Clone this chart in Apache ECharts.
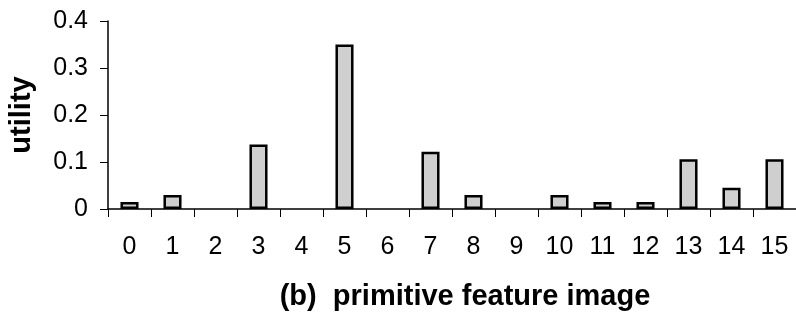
<!DOCTYPE html>
<html><head><meta charset="utf-8">
<script src="https://cdn.jsdelivr.net/npm/echarts@6/dist/echarts.min.js"></script>
<style>html,body{margin:0;padding:0;background:#fff}#c{width:796px;height:321px}</style>
</head><body><div id="c"></div>
<script>
const categories = ['0','1','2','3','4','5','6','7','8','9','10','11','12','13','14','15'];
const utility = [0.015, 0.03, 0, 0.137, 0, 0.35, 0, 0.122, 0.03, 0, 0.03, 0.015, 0.015, 0.106, 0.045, 0.106];
const yTicks = [0, 0.1, 0.2, 0.3, 0.4];
const xTitle = '(b)  primitive feature image';
const yTitle = 'utility';

const chart = echarts.init(document.getElementById('c'), null, {renderer:'canvas'});
chart.setOption({
  animation:false,
  grid:{left:108, right:0, top:21, bottom:112, containLabel:false, outerBoundsMode:'none'},
  xAxis:{
    type:'category', data:categories, boundaryGap:true,
    axisLine:{lineStyle:{color:'#000', width:1.5}},
    axisTick:{show:true, interval:0, length:8, lineStyle:{color:'#000', width:1}},
    axisLabel:{interval:0, margin:26, fontFamily:'Liberation Sans, Arial', fontSize:25, color:'#000'},
    name:xTitle, nameLocation:'middle', nameGap:73,
    nameTextStyle:{fontFamily:'Liberation Sans, Arial', fontWeight:'bold', fontSize:29, color:'#000', padding:[0,0,0,26]}
  },
  yAxis:{
    type:'value', min:yTicks[0], max:yTicks[yTicks.length-1], interval:0.1,
    axisLine:{show:true, lineStyle:{color:'#000', width:1.5}},
    axisTick:{show:true, length:8, lineStyle:{color:'#000', width:1}},
    splitLine:{show:false},
    axisLabel:{margin:20, fontFamily:'Liberation Sans, Arial', fontSize:25, color:'#000',
      formatter:v=>v===0?'0':v.toFixed(1)},
    name:yTitle, nameLocation:'middle', nameGap:72, nameRotate:90,
    nameTextStyle:{fontFamily:'Liberation Sans, Arial', fontWeight:'bold', fontSize:29, color:'#000'}
  },
  series:[{
    type:'bar', data:utility.map(v => v === 0 ? null : v), barWidth:'42%',
    itemStyle:{color:'#cfcfcf', borderColor:'#000', borderWidth:2.5}
  }]
});
</script></body></html>
